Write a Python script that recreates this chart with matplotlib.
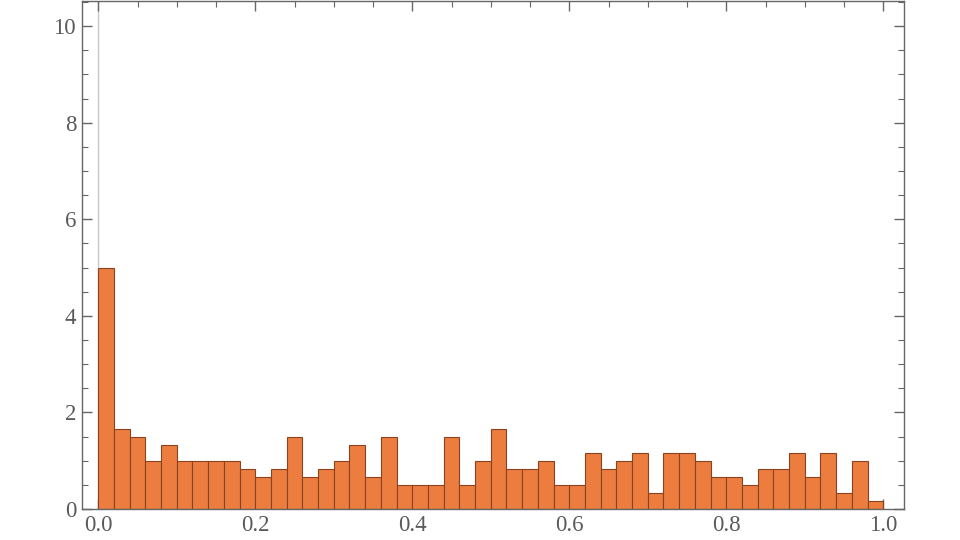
import matplotlib
matplotlib.use("Agg")
import matplotlib.pyplot as plt
from matplotlib.ticker import MultipleLocator, FormatStrFormatter
import numpy as np

# bin counts (50 bins of width 0.02 on [0, 1]), 300 samples, PDF-normalised
bin_start = 0.0
bin_width = 0.02
counts = [30, 10, 9, 6, 8, 6, 6, 6, 6, 5,
          4, 5, 9, 4, 5, 6, 8, 4, 9, 3,
          3, 3, 9, 3, 6, 10, 5, 5, 6, 3,
          3, 7, 5, 6, 7, 2, 7, 7, 6, 4,
          4, 3, 5, 5, 7, 4, 7, 2, 6, 1]
x_ticks = [0.0, 0.2, 0.4, 0.6, 0.8, 1.0]
y_ticks = [0, 2, 4, 6, 8, 10]

plt.rcParams['font.family'] = ['Liberation Serif', 'DejaVu Serif']

fig = plt.figure(figsize=(9.6, 5.4), dpi=100)
ax = fig.add_axes([0.0851, 0.0574, 0.942 - 0.0851, 0.998 - 0.0574])

n = sum(counts)
lefts = bin_start + bin_width * np.arange(len(counts))
heights = np.array(counts) / (n * bin_width)

ax.axvline(0, color='#c8c8c8', lw=1.0, zorder=0)
ax.bar(lefts, heights, width=bin_width, align='edge',
       color='#ec7d3f', edgecolor='#8a4322', linewidth=0.8, zorder=2)

ax.set_xlim(-0.0211, 1.0268)
ax.set_ylim(0, 10.52)

ax.xaxis.set_minor_locator(MultipleLocator(0.05))
ax.yaxis.set_minor_locator(MultipleLocator(0.5))
ax.set_xticks(x_ticks)
ax.set_yticks(y_ticks)
ax.xaxis.set_major_formatter(FormatStrFormatter('%.1f'))
ax.yaxis.set_major_formatter(FormatStrFormatter('%d'))

frame_col = '#666666'
for s in ax.spines.values():
    s.set_color(frame_col)
    s.set_linewidth(1.0)

ax.tick_params(which='both', direction='in', top=True, right=True,
               color=frame_col, labelcolor='#5a5a5a', labelsize=16.5)
ax.tick_params(which='major', length=7, width=1.0, pad=4)
ax.tick_params(which='minor', length=4, width=0.8)

fig.savefig('out.png', dpi=100)
